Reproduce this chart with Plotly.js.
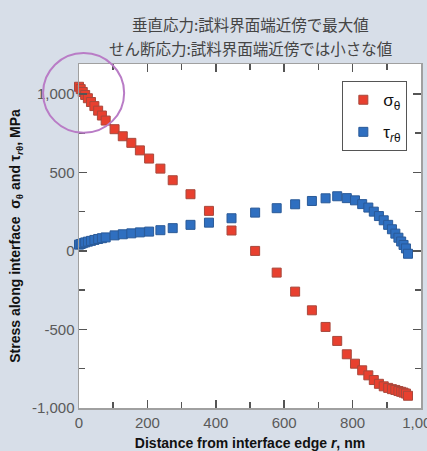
<!DOCTYPE html>
<html>
<head>
<meta charset="utf-8">
<script src="https://cdn.plot.ly/plotly-3.0.1.min.js"></script>
<style>
html,body{margin:0;padding:0;background:#d7dee8;}
#chart{width:427px;height:451px;}
</style>
</head>
<body>
<div id="chart"></div>
<script>
// Distance from interface edge r (nm)
var distance = [0, 5, 11, 18, 26, 35, 45, 56, 67, 78, 104, 128, 153, 178, 205, 238, 274, 326, 380, 446, 515, 578, 632, 681, 721, 755, 783, 807, 828, 846, 862, 877, 891, 904, 915, 925, 934, 942, 949, 956, 962];
// Normal stress sigma_theta (MPa)
var sigmaTheta = [1045, 1030, 1012, 993, 972, 948, 922, 893, 862, 830, 775, 730, 688, 640, 588, 524, 450, 361, 255, 130, 0, -138, -259, -378, -484, -573, -658, -718, -760, -792, -822, -846, -862, -872, -880, -885, -892, -897, -902, -908, -922];
// Shear stress tau_r_theta (MPa)
var tauRTheta = [40, 44, 49, 54, 59, 64, 70, 76, 81, 86, 99, 106, 112, 118, 123, 132, 145, 166, 180, 208, 244, 272, 297, 318, 335, 348, 336, 322, 298, 276, 250, 222, 195, 166, 138, 110, 84, 60, 38, 16, -18];

var xTickVals = [0, 200, 400, 600, 800, 1000];
var xTickText = ['0', '200', '400', '600', '800', '1,000'];
var xMinorVals = [100, 300, 500, 700, 900];
var yTickVals = [-1000, -500, 0, 500, 1000];
var yTickText = ['-1,000', '-500', '0', '500', '1,000'];
var yMinorVals = [-750, -250, 250, 750];

var titleLine1 = '垂直応力:試料界面端近傍で最大値';
var titleLine2 = 'せん断応力:試料界面端近傍では小さな値';

var traces = [
  {
    x: distance, y: sigmaTheta, type: 'scatter', mode: 'markers',
    name: 'σ<sub>θ</sub>', legendgroup: 'a', cliponaxis: false,
    marker: {symbol: 'square', size: 9, color: '#e8402f', line: {color: '#a8483c', width: 1}}
  },
  {
    x: distance, y: tauRTheta, type: 'scatter', mode: 'markers',
    name: 'τ<sub><i>r</i>θ</sub>', legendgroup: 'b', cliponaxis: false,
    marker: {symbol: 'square', size: 9, color: '#2f6fc0', line: {color: '#2a5a98', width: 1}}
  }
];

var axisCommon = {
  showgrid: false, zeroline: false, showline: true, linecolor: '#a0a0a0', linewidth: 1.5,
  mirror: 'allticks', ticks: 'inside', ticklen: 8, tickwidth: 1.5, tickcolor: '#555',
  tickfont: {family: 'Liberation Sans, Arial, sans-serif', size: 15, color: '#5a5a5a'},
  tickmode: 'array', ticklabeloverflow: 'allow'
};

var layout = {
  width: 427, height: 451,
  paper_bgcolor: '#d7dee8', plot_bgcolor: '#ffffff',
  margin: {l: 79, r: 6, t: 64, b: 43},
  showlegend: true,
  legend: {
    x: 0.77, y: 0.95, xanchor: 'left', yanchor: 'top',
    bgcolor: '#ffffff', bordercolor: '#555', borderwidth: 1,
    font: {family: 'Liberation Sans, Arial, sans-serif', size: 17, color: '#111'},
    traceorder: 'grouped', tracegroupgap: 7
  },
  xaxis: Object.assign({}, axisCommon, {
    range: [0, 1000], tickvals: xTickVals, ticktext: xTickText,
    minor: {tickmode: 'array', tickvals: xMinorVals, ticks: 'inside', ticklen: 6, tickwidth: 1.5, tickcolor: '#555'},
    title: {text: 'Distance from interface edge <i>r</i>, nm', standoff: 10,
      font: {family: 'Liberation Sans, Arial, sans-serif', size: 14, color: '#111', weight: 'bold'}}
  }),
  yaxis: Object.assign({}, axisCommon, {
    range: [-1000, 1190], tickvals: yTickVals, ticktext: yTickText,
    minor: {tickmode: 'array', tickvals: yMinorVals, ticks: 'inside', ticklen: 6, tickwidth: 1.5, tickcolor: '#555'},
    title: {text: 'Stress along interface  σ<sub>θ</sub> and τ<sub><i>r</i>θ</sub>, MPa', standoff: 8,
      font: {family: 'Liberation Sans, Arial, sans-serif', size: 14, color: '#111', weight: 'bold'}}
  }),
  annotations: [
    {text: titleLine1, xref: 'paper', yref: 'paper', x: 0.5, y: 1.116, xanchor: 'center', yanchor: 'middle', showarrow: false,
      font: {family: 'Noto Sans CJK JP', size: 15.5, color: '#444'}},
    {text: titleLine2, xref: 'paper', yref: 'paper', x: 0.5, y: 1.047, xanchor: 'center', yanchor: 'middle', showarrow: false,
      font: {family: 'Noto Sans CJK JP', size: 15.5, color: '#444'}}
  ],
  shapes: [
    {type: 'circle', xref: 'paper', yref: 'paper', x0: -0.105, x1: 0.132, y0: 0.80, y1: 1.032,
      line: {color: '#b97cc6', width: 2}}
  ]
};

Plotly.newPlot('chart', traces, layout, {displayModeBar: false, staticPlot: true});
</script>
</body>
</html>
